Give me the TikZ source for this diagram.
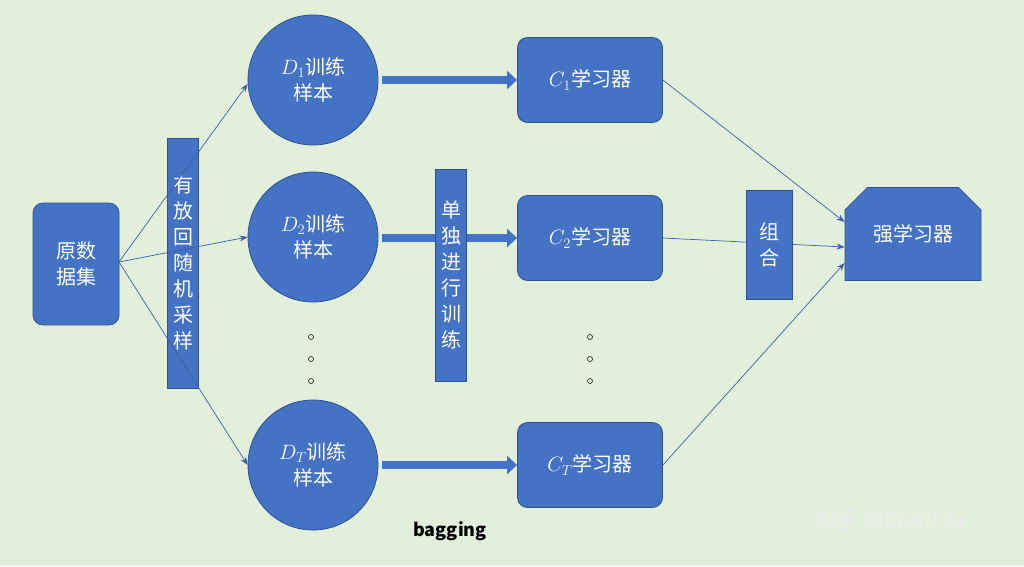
\documentclass[tikz,border=0pt]{standalone}
\usepackage{fontspec}
\setmainfont{Noto Sans CJK SC}
\usetikzlibrary{shapes.misc,arrows.meta}
\definecolor{bg}{RGB}{226,239,218}
\definecolor{bl}{RGB}{68,114,196}
\definecolor{bd}{RGB}{47,82,143}
\begin{document}
\begin{tikzpicture}[x=1pt,y=-1pt,
  box/.style={fill=bl,draw=bd,line width=0.8pt,text=white,font=\fontsize{20}{26}\selectfont,align=center,inner sep=0},
  rbox/.style={box,rounded corners=10pt,minimum width=145pt,minimum height=85pt},
  circ/.style={box,circle,minimum size=130pt},
  bar/.style={box,minimum width=31pt},
  thin/.style={draw=bl!85!black,line width=0.7pt,-{Stealth[length=8pt,width=6pt]}},
  thick/.style={draw=bl,line width=8pt,-{Triangle[length=10pt,width=18pt]}},
  dot/.style={circle,draw=black,line width=0.5pt,inner sep=0,minimum size=5pt}]
\fill[bg] (0,0) rectangle (1024,566);
\useasboundingbox (0,0) rectangle (1024,566);
\node[box,rounded corners=10pt,minimum width=86pt,minimum height=122pt] (src) at (76,264) {原数\\据集};
\node[bar,minimum height=250pt] (samp) at (183,263) {有\\放\\回\\随\\机\\采\\样};
\node[circ] (d1) at (313,80) {$D_1$训练\\样本};
\node[circ] (d2) at (313,237) {$D_2$训练\\样本};
\node[circ] (dt) at (313,465) {$D_T$训练\\样本};
\node[rbox] (c1) at (590,80) {$C_1$学习器};
\node[rbox] (c2) at (590,238) {$C_2$学习器};
\node[rbox] (ct) at (590,465) {$C_T$学习器};
\foreach \y [count=\i] in {337,359,381}{
  \node[dot] (la\i) at (311,\y) {};
  \node[dot] (lb\i) at (590,\y) {};}
\node[box,chamfered rectangle,chamfered rectangle corners={north west,north east},chamfered rectangle xsep=13pt,chamfered rectangle ysep=13pt,minimum width=136pt,minimum height=93pt] (strong) at (913,234) {强学习器};
\coordinate (o) at (119,262);
\draw[thin] (o) -- (d1.west|-0,84) coordinate (e1);
\draw[thin] (o) -- (d2.west);
\draw[thin] (o) -- (d1.west|-0,465);
\draw[thick] (382,80) -- (c1.west);
\draw[thick] (382,238) -- (c2.west);
\draw[thick] (382,465) -- (ct.west);
\node[bar,minimum height=212pt] (train) at (451,275) {单\\独\\进\\行\\训\\练};
\draw[thin] (c1.east) -- (strong.west|-0,222);
\draw[thin] (c2.east) -- (strong.west|-0,247);
\draw[thin] (ct.east) -- (strong.west|-0,263);
\node[bar,minimum width=46pt,minimum height=109pt] (comb) at (769,245) {组\\合};
\node[font=\bfseries\fontsize{18}{20}\selectfont] (bag) at (450,531) {bagging};
\node[text=white!85!gray,font=\fontsize{22}{24}\selectfont] (wm) at (890,521) {知乎 @End小fa};
\end{tikzpicture}
\end{document}
